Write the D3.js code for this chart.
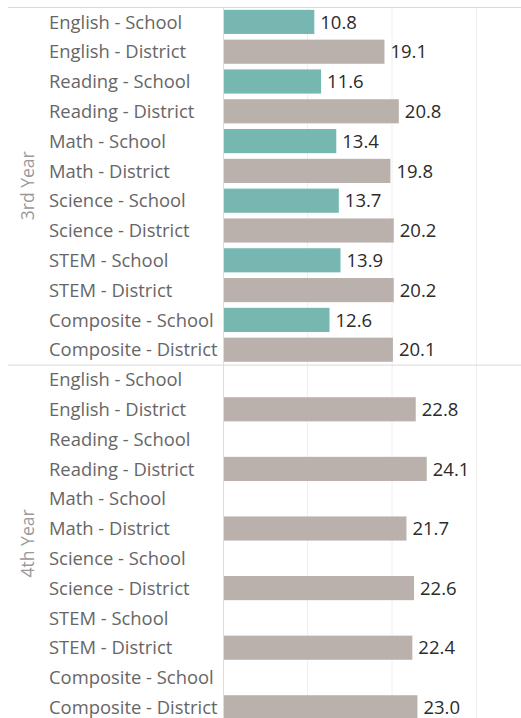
<!DOCTYPE html>
<html>
<head>
<meta charset="utf-8">
<script src="https://cdn.jsdelivr.net/npm/d3@7"></script>
<style>
  body { margin: 0; background: #fff; }
  text { font-family: "Open Sans", Lato, sans-serif; }
</style>
</head>
<body>
<svg id="chart"></svg>
<script>
// Years (panels) and row categories
var years = ['3rd Year', '4th Year'];
var subjects = ['English', 'Reading', 'Math', 'Science', 'STEM', 'Composite'];
var sources = ['School', 'District'];

// Scores, one value per subject, null where there is no bar
var school3 = [10.8, 11.6, 13.4, 13.7, 13.9, 12.6];
var district3 = [19.1, 20.8, 19.8, 20.2, 20.2, 20.1];
var school4 = [null, null, null, null, null, null];
var district4 = [22.8, 24.1, 21.7, 22.6, 22.4, 23.0];

var gridTicks = [10, 20, 30];

var width = 521, height = 718;
var svg = d3.select('#chart').attr('width', width).attr('height', height);

// Build the rows: year x subject x source
var values = { '3rd Year': [school3, district3], '4th Year': [school4, district4] };
var rows = [];
years.forEach(function (year) {
  subjects.forEach(function (subj, i) {
    sources.forEach(function (src, j) {
      rows.push({ year: year, label: subj + ' - ' + src, source: src, value: values[year][j][i] });
    });
  });
});

var topY = 7, rowH = 29.8;
var y = d3.scaleBand()
  .domain(d3.range(rows.length))
  .range([topY, topY + rowH * rows.length])
  .paddingInner(0.19)
  .paddingOuter(0.095);

var x = d3.scaleLinear().domain([0, 35.25]).range([223, 521]);

var color = d3.scaleOrdinal().domain(sources).range(['#76b7b2', '#bab0ac']);

// Gridlines
svg.append('g').selectAll('line')
  .data(gridTicks).enter()
  .append('line')
  .attr('x1', function (d) { return x(d); })
  .attr('x2', function (d) { return x(d); })
  .attr('y1', topY)
  .attr('y2', height)
  .attr('stroke', '#efefef')
  .attr('stroke-width', 1);

// Bars
svg.append('g').selectAll('rect')
  .data(rows.filter(function (d) { return d.value != null; })).enter()
  .append('rect')
  .attr('x', x(0))
  .attr('y', function (d) { return y(rows.indexOf(d)); })
  .attr('width', function (d) { return x(d.value) - x(0); })
  .attr('height', y.bandwidth())
  .attr('fill', function (d) { return color(d.source); });

// Value labels
svg.append('g').selectAll('text')
  .data(rows.filter(function (d) { return d.value != null; })).enter()
  .append('text')
  .attr('x', function (d) { return x(d.value) + 6; })
  .attr('y', function (d) { return y(rows.indexOf(d)) + y.bandwidth() / 2; })
  .attr('dy', '0.36em')
  .attr('font-size', '18.5px')
  .attr('fill', '#2b2b2b')
  .text(function (d) { return d.value.toFixed(1); });

// Row labels
svg.append('g').selectAll('text')
  .data(rows).enter()
  .append('text')
  .attr('x', 49)
  .attr('y', function (d, i) { return y(i) + y.bandwidth() / 2; })
  .attr('dy', '0.36em')
  .attr('font-size', '18.4px')
  .attr('fill', '#666')
  .text(function (d) { return d.label; });

// Axis line at zero
svg.append('line')
  .attr('x1', x(0) + 0.5).attr('x2', x(0) + 0.5)
  .attr('y1', topY).attr('y2', height)
  .attr('stroke', '#ddd');

// Panel borders and year labels
var panelH = rowH * subjects.length * sources.length;
years.forEach(function (year, k) {
  svg.append('line')
    .attr('x1', 8).attr('x2', width)
    .attr('y1', topY + panelH * k + 0.5).attr('y2', topY + panelH * k + 0.5)
    .attr('stroke', '#d9d9d9');
  svg.append('text')
    .attr('transform', 'translate(28,' + (topY + panelH * k + panelH / 2) + ') rotate(-90)')
    .attr('text-anchor', 'middle')
    .attr('dy', '0.36em')
    .attr('font-size', '17.5px')
    .attr('fill', '#999')
    .text(year);
});
</script>
</body>
</html>
